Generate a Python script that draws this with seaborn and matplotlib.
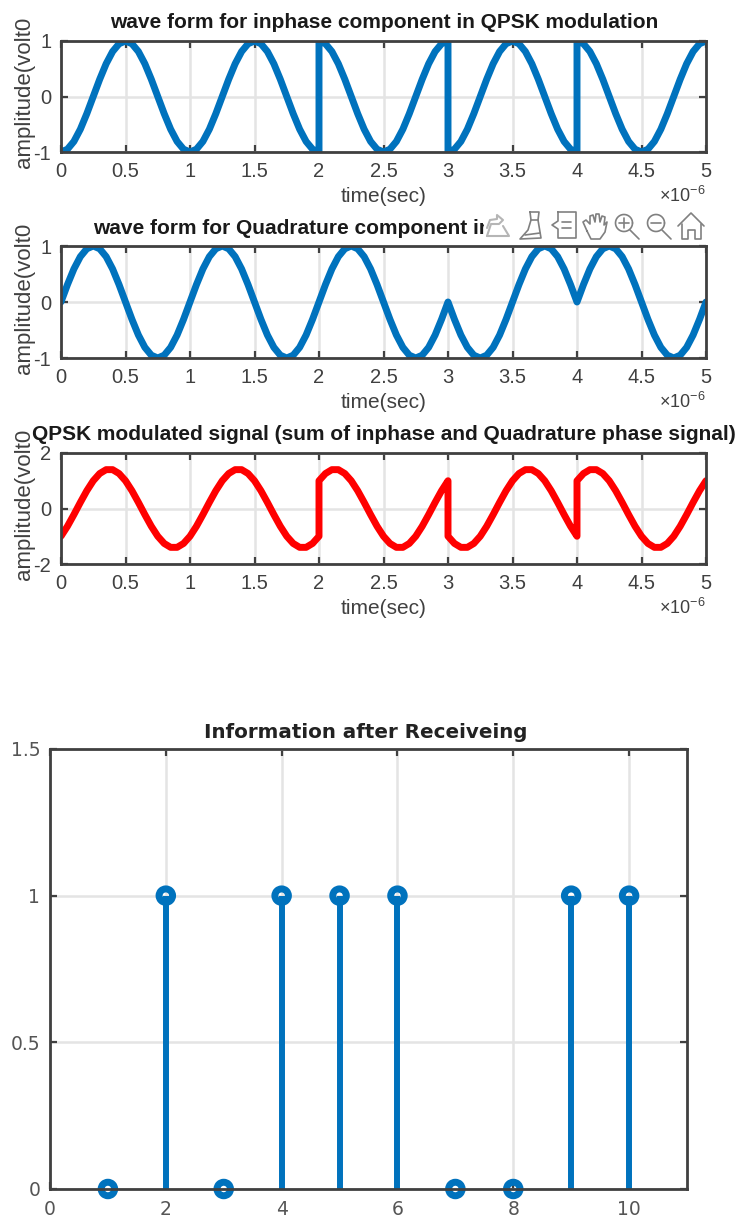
import numpy as np
import pandas as pd
import matplotlib
matplotlib.use("Agg")
import matplotlib.pyplot as plt
from matplotlib import font_manager as fm
from matplotlib.lines import Line2D
from matplotlib.patches import Rectangle
import seaborn as sns

W, H = 738, 1220

# ---------- data (values per microsecond of signal) ----------
I_RISE = [-1, -.95, -.81, -.59, -.31, 0, .31, .59, .81, .95, 1, .95, .81, .59, .31, 0, -.31, -.59, -.81, -.95, -1]
I_FALL = [1, .95, .81, .59, .31, 0, -.31, -.59, -.81, -.95, -1, -.95, -.81, -.59, -.31, 0, .31, .59, .81, .95, 1]
Q_POS = [0, .31, .59, .81, .95, 1, .95, .81, .59, .31, 0, -.31, -.59, -.81, -.95, -1, -.95, -.81, -.59, -.31, 0]
Q_NEG = [0, -.31, -.59, -.81, -.95, -1, -.95, -.81, -.59, -.31, 0, .31, .59, .81, .95, 1, .95, .81, .59, .31, 0]
S_A = [-1, -.64, -.22, .22, .64, 1, 1.26, 1.40, 1.40, 1.26, 1, .64, .22, -.22, -.64, -1, -1.26, -1.40, -1.40, -1.26, -1]
S_B = [1, 1.26, 1.40, 1.40, 1.26, 1, .64, .22, -.22, -.64, -1, -1.26, -1.40, -1.40, -1.26, -1, -.64, -.22, .22, .64, 1]
S_C = [-1, -1.26, -1.40, -1.40, -1.26, -1, -.64, -.22, .22, .64, 1, 1.26, 1.40, 1.40, 1.26, 1, .64, .22, -.22, -.64, -1]

inphase_segments = [I_RISE, I_RISE, I_FALL, I_RISE, I_FALL]
quadrature_segments = [Q_POS, Q_POS, Q_POS, Q_NEG, Q_POS]
modulated_segments = [S_A, S_A, S_B, S_C, S_B]

received_index = [1, 2, 3, 4, 5, 6, 7, 8, 9, 10]
received_bits = [0, 1, 0, 1, 1, 1, 0, 0, 1, 1]

wave_titles = ["wave form for inphase component in QPSK modulation",
               "wave form for Quadrature component in QPSK modulation",
               "QPSK modulated signal (sum of inphase and Quadrature phase signal)"]
time_ticks = [0, 0.5, 1, 1.5, 2, 2.5, 3, 3.5, 4, 4.5, 5]
time_labels = ["0", "0.5", "1", "1.5", "2", "2.5", "3", "3.5", "4", "4.5", "5"]
xlabel_text = "time(sec)"
ylabel_text = "amplitude(volt0"
multiplier_text = "×10$^{-6}$"
stem_title = "Information after Receiveing"
stem_xticks = [0, 2, 4, 6, 8, 10]
stem_yticks = [0, 0.5, 1, 1.5]
stem_ylabels = ["0", "0.5", "1", "1.5"]

BLUE = "#0072BD"
RED = "#FF0000"
AXC = "#404040"
GRID = "#E4E4E4"
ICON = "#808080"

# ---------- style ----------
sns.set_theme(style="white")
names = {f.name for f in fm.fontManager.ttflist}
NARROW = "Liberation Sans Narrow" if "Liberation Sans Narrow" in names else "Liberation Sans"
plt.rcParams["font.family"] = [NARROW, "DejaVu Sans"]
plt.rcParams["mathtext.fontset"] = "custom"
plt.rcParams["mathtext.rm"] = NARROW
plt.rcParams["mathtext.default"] = "rm"
plt.rcParams["axes.unicode_minus"] = False

fig = plt.figure(figsize=(W / 100, H / 100), dpi=100, facecolor="white")


def add_axes_px(left, top, right, bottom):
    return fig.add_axes([left / W, 1 - bottom / H, (right - left) / W, (bottom - top) / H])


def style_axes(ax, lw=2.0):
    for s in ax.spines.values():
        s.set_visible(True)
        s.set_color(AXC)
        s.set_linewidth(lw)
        s.set_zorder(5)
    ax.grid(True, color=GRID, linewidth=1.8)
    ax.set_axisbelow(True)


def wave_frame(segments):
    frames = []
    for k, seg in enumerate(segments):
        frames.append(pd.DataFrame({"t": np.linspace(k, k + 1, len(seg)), "v": seg}))
    return pd.concat(frames, ignore_index=True)


panels = [
    ((61, 41, 706, 152), inphase_segments, BLUE, (-1, 1), [-1, 0, 1], 19),
    ((61, 246, 706, 358), quadrature_segments, BLUE, (-1, 1), [-1, 0, 1], 17),
    ((61, 453, 706, 564), modulated_segments, RED, (-2, 2), [-2, 0, 2], 18),
]
for (box, segs, col, ylim, yticks, title_gap), title in zip(panels, wave_titles):
    ax = add_axes_px(*box)
    sns.lineplot(data=wave_frame(segs), x="t", y="v", sort=False, estimator=None, color=col,
                 linewidth=5.0, ax=ax, solid_joinstyle="round", zorder=3)
    ax.set_xlim(0, 5)
    ax.set_ylim(*ylim)
    ax.set_xticks(time_ticks)
    ax.set_xticklabels(time_labels)
    ax.set_yticks(yticks)
    style_axes(ax)
    ax.tick_params(axis="both", direction="in", length=5, width=1.6, color=AXC, labelcolor=AXC,
                   labelsize=14.5, top=True, bottom=True, left=True, right=True,
                   labeltop=False, labelright=False)
    ax.tick_params(axis="x", pad=7)
    ax.tick_params(axis="y", pad=7)
    ax.set_xlabel("")
    ax.set_ylabel("")
    fig.text(383.5 / W, 1 - (box[3] + 45) / H, xlabel_text, ha="center", va="center",
             fontsize=15, color=AXC)
    fig.text(25 / W, 1 - ((box[1] + box[3]) / 2 - 4) / H, ylabel_text, rotation=90, ha="center",
             va="center", fontsize=16, color=AXC)
    fig.text(706 / W, 1 - (box[3] + 44) / H, multiplier_text, ha="right", va="center",
             fontsize=13, color=AXC)
    fig.text(384 / W, 1 - (box[1] - title_gap) / H, title, ha="center", va="center", fontsize=15,
             fontweight="bold", color="#1a1a1a", zorder=1)

# ---------- stem panel ----------
ax4 = add_axes_px(50, 749, 687, 1189)
stem_df = pd.DataFrame({"n": received_index, "bit": received_bits})
ax4.vlines(stem_df["n"], 0, stem_df["bit"], color=BLUE, linewidth=4.3, zorder=3)
sns.scatterplot(data=stem_df, x="n", y="bit", ax=ax4, s=95, facecolor="none", edgecolor=BLUE,
                linewidth=5.0, clip_on=False, zorder=4, legend=False)
ax4.set_xlim(0, 11)
ax4.set_ylim(0, 1.5)
ax4.set_xticks(stem_xticks)
ax4.set_yticks(stem_yticks)
ax4.set_yticklabels(stem_ylabels)
style_axes(ax4)
ax4.tick_params(axis="both", direction="in", length=5, width=1.6, color=AXC, labelcolor="#555555",
                labelsize=13.5, top=True, bottom=True, left=True, right=True,
                labeltop=False, labelright=False)
ax4.tick_params(axis="x", pad=8)
ax4.tick_params(axis="y", pad=7)
for lab in ax4.get_xticklabels() + ax4.get_yticklabels():
    lab.set_family("DejaVu Sans")
ax4.set_xlabel("")
ax4.set_ylabel("")
fig.text(365.5 / W, 1 - 732 / H, stem_title, ha="center", va="center", fontsize=14.3,
         fontweight="bold", family="DejaVu Sans", color="#222222")

# ---------- toolbar covering the second title ----------
fig.add_artist(Rectangle((484 / W, 1 - 241 / H), 222 / W, 31 / H, transform=fig.transFigure,
                         facecolor="white", edgecolor="none", zorder=10))


def px(x, y):
    return (x / W, 1 - y / H)


def pl(points, lw=1.2, color=ICON):
    xs, ys = zip(*[px(*p) for p in points])
    fig.add_artist(Line2D(xs, ys, color=color, linewidth=lw, zorder=11, solid_capstyle="round"))


def ring(cx, cy, r_px):
    a = np.linspace(0, 2 * np.pi, 40)
    pl(list(zip(cx + r_px * np.cos(a), cy + r_px * np.sin(a))))


# export icon
pl([(487, 236), (491, 224), (499, 224), (503, 220), (497, 215), (497, 219), (490, 220), (487, 228)], color="#B5B5B5", lw=1.5)
pl([(503, 226), (509, 236), (487, 236)], color="#B5B5B5", lw=1.5)
# brush
pl([(530, 212), (539, 212), (538, 220), (541, 238), (520, 239), (528, 230), (531, 220), (530, 212)])
pl([(531, 220), (538, 220)]); pl([(525, 235), (540, 233)])
# data tip
pl([(558, 212), (576, 212), (576, 238), (558, 238), (558, 229), (552, 225), (558, 221), (558, 212)])
pl([(562, 222), (571, 222)]); pl([(562, 228), (571, 228)])
# hand
pl([(587, 231), (583, 222), (586, 220), (590, 224), (590, 216), (593, 215), (595, 222), (596, 214), (599, 214),
    (600, 222), (602, 216), (605, 217), (604, 225), (607, 222), (605, 232), (600, 239), (591, 239), (587, 231)])
# zoom in
ring(624, 223, 8.5); pl([(630, 230), (639, 239)]); pl([(619, 223), (629, 223)]); pl([(624, 218), (624, 228)])
# zoom out
ring(656, 223, 8.5); pl([(662, 230), (671, 239)]); pl([(651, 223), (661, 223)])
# home
pl([(678, 226), (691, 213), (704, 226)])
pl([(682, 224), (682, 239), (688, 239), (688, 230), (695, 230), (695, 239), (701, 239), (701, 224)])

fig.savefig("out.png", dpi=100, facecolor="white")
